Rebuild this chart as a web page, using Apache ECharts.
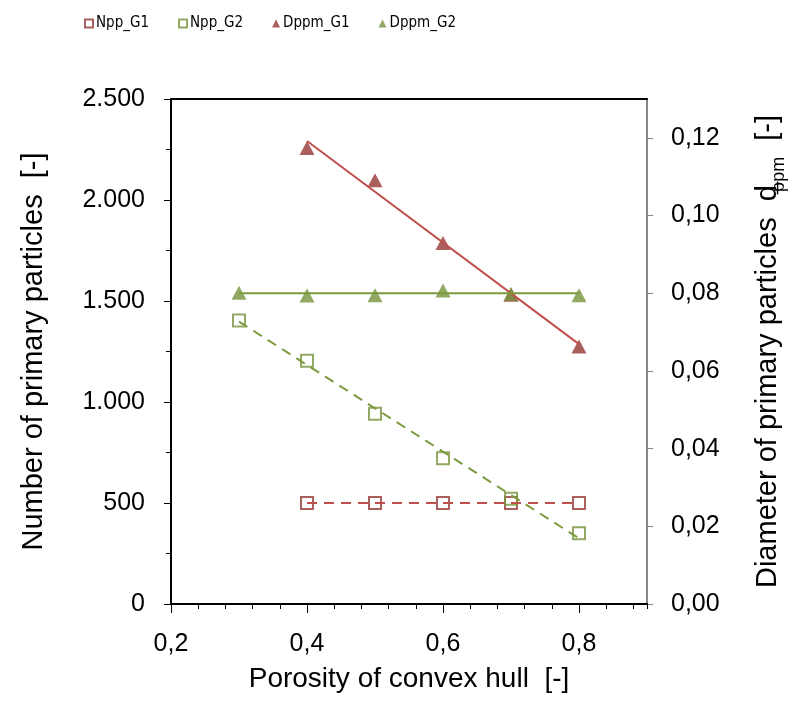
<!DOCTYPE html>
<html>
<head>
<meta charset="utf-8">
<script src="https://cdn.jsdelivr.net/npm/echarts@6/dist/echarts.min.js"></script>
<style>
  html, body { margin: 0; padding: 0; background: #fff; }
  #chart { width: 799px; height: 704px; }
</style>
</head>
<body>
<div id="chart"></div>
<script>
// porosity values (x)
var porosityG1 = [0.4, 0.5, 0.6, 0.7, 0.8];
var porosityG2 = [0.3, 0.4, 0.5, 0.6, 0.7, 0.8];

// number of primary particles (left axis)
var nppG1 = [500, 500, 500, 500, 500];
var nppG2 = [1404, 1204, 942, 721, 521, 350];

// diameter of primary particles (right axis)
var dppmG1 = [0.1174, 0.1091, 0.0929, 0.0796, 0.0663];
var dppmG2 = [0.0801, 0.0794, 0.0795, 0.0807, 0.0798, 0.0795];

// trend lines, start/end
var trendXG1 = [0.4, 0.8];
var trendXG2 = [0.3, 0.8];
var nppG1Trend = [500, 500];
var nppG2Trend = [1398, 325];
var dppmG1Trend = [0.1192, 0.0669];
var dppmG2Trend = [0.0800, 0.0800];

// tick values
var xLabelTicks = [0.2, 0.4, 0.6, 0.8];
var rightTicks = [0, 0.02, 0.04, 0.06, 0.08, 0.10, 0.12];

var red = '#953735', redLine = '#C0504D';
var green = '#77933C', greenLine = '#7A9A3E';
var font = 'Liberation Sans, Arial, sans-serif';
var narrow = 'DejaVu Sans Condensed, Liberation Sans Narrow, sans-serif';

function pairs(xs, ys) {
    return xs.map(function (x, i) { return [x, ys[i]]; });
}

var chart = echarts.init(document.getElementById('chart'));

var option = {
    animation: false,
    backgroundColor: '#fff',
    textStyle: { fontFamily: font, color: '#000' },
    legend: {
        left: 79,
        top: 11,
        itemWidth: 8,
        itemHeight: 8,
        itemGap: 29,
        textStyle: { fontFamily: narrow, fontSize: 15, color: '#000', padding: [0, 0, 0, -2] },
        data: ['Npp_G1', 'Npp_G2', 'Dppm_G1', 'Dppm_G2']
    },
    grid: { left: 171, right: 152, top: 99, bottom: 100 },
    xAxis: [
        {
            type: 'value', min: 0.2, max: 0.9, interval: 0.04,
            name: 'Porosity of convex hull  [-]',
            nameLocation: 'middle', nameGap: 61,
            nameTextStyle: { fontSize: 28, fontFamily: font, color: '#000' },
            axisLine: { lineStyle: { color: '#000', width: 2 } },
            axisTick: { show: true, length: 5, lineStyle: { color: '#000', width: 1 } },
            axisLabel: {
                customValues: xLabelTicks, margin: 28, fontSize: 25, color: '#000', fontFamily: font,
                formatter: function (v) { return v.toFixed(1).replace('.', ','); }
            },
            splitLine: { show: false }
        },
        {
            type: 'value', min: 0.2, max: 0.9, position: 'bottom',
            axisLine: { show: false },
            axisTick: { show: true, customValues: xLabelTicks, length: 9, lineStyle: { color: '#000', width: 1 } },
            axisLabel: { show: false },
            splitLine: { show: false }
        },
        {
            type: 'value', min: 0.2, max: 0.9, position: 'top',
            axisLine: { lineStyle: { color: '#000', width: 2 } },
            axisTick: { show: false },
            axisLabel: { show: false },
            splitLine: { show: false }
        }
    ],
    yAxis: [
        {
            type: 'value', min: 0, max: 2500, interval: 500, position: 'left',
            name: 'Number of primary particles  [-]',
            nameLocation: 'middle', nameGap: 123,
            nameTextStyle: { fontSize: 29, fontFamily: font, color: '#000' },
            axisLine: { show: true, lineStyle: { color: '#000', width: 2 } },
            axisTick: { show: true, length: 7, lineStyle: { color: '#000', width: 1 } },
            minorTick: { show: true, splitNumber: 2, length: 5, lineStyle: { color: '#000', width: 1 } },
            axisLabel: {
                margin: 26, fontSize: 25, color: '#000', fontFamily: font,
                formatter: function (v) { return String(v).replace(/\B(?=(\d{3})+(?!\d))/g, '.'); }
            },
            splitLine: { show: false }
        },
        {
            type: 'value', min: 0, max: 0.13, position: 'right',
            name: 'Diameter of primary particles  {d|d}{u|_}{sub|ppm}  [-]',
            nameLocation: 'middle', nameGap: 101,
            nameTextStyle: {
                fontSize: 29, fontFamily: font, color: '#000',
                rich: {
                    d: { fontSize: 29, fontFamily: font, color: '#000' },
                    u: { fontSize: 22, fontFamily: font, color: '#000', padding: [0, 0, 0, -9] },
                    sub: { fontSize: 18, fontFamily: font, color: '#000', padding: [22, 0, 0, -10] }
                }
            },
            axisLine: { show: true, lineStyle: { color: '#868686', width: 2 } },
            axisTick: { show: true, customValues: rightTicks, length: 6, lineStyle: { color: '#868686', width: 1 } },
            axisLabel: {
                customValues: rightTicks, margin: 24, fontSize: 25, color: '#000', fontFamily: font,
                formatter: function (v) { return v.toFixed(2).replace('.', ','); }
            },
            splitLine: { show: false }
        }
    ],
    series: [
        {
            name: 'Npp_G1 trend', type: 'line', xAxisIndex: 0, yAxisIndex: 0,
            data: pairs(trendXG1, nppG1Trend), symbol: 'none', silent: true,
            lineStyle: { color: redLine, width: 2, type: [10, 7] }
        },
        {
            name: 'Npp_G2 trend', type: 'line', xAxisIndex: 0, yAxisIndex: 0,
            data: pairs(trendXG2, nppG2Trend), symbol: 'none', silent: true,
            lineStyle: { color: greenLine, width: 2, type: [10, 7] }
        },
        {
            name: 'Dppm_G1 trend', type: 'line', xAxisIndex: 0, yAxisIndex: 1,
            data: pairs(trendXG1, dppmG1Trend), symbol: 'none', silent: true,
            lineStyle: { color: redLine, width: 2 }
        },
        {
            name: 'Dppm_G2 trend', type: 'line', xAxisIndex: 0, yAxisIndex: 1,
            data: pairs(trendXG2, dppmG2Trend), symbol: 'none', silent: true,
            lineStyle: { color: greenLine, width: 2 }
        },
        {
            name: 'Npp_G1', type: 'scatter', xAxisIndex: 0, yAxisIndex: 0,
            data: pairs(porosityG1, nppG1), symbol: 'rect', symbolSize: 12,
            itemStyle: { color: 'rgba(255,255,255,0)', borderColor: red, borderWidth: 2 }
        },
        {
            name: 'Npp_G2', type: 'scatter', xAxisIndex: 0, yAxisIndex: 0,
            data: pairs(porosityG2, nppG2), symbol: 'rect', symbolSize: 12,
            itemStyle: { color: 'rgba(255,255,255,0)', borderColor: green, borderWidth: 2 }
        },
        {
            name: 'Dppm_G1', type: 'scatter', xAxisIndex: 0, yAxisIndex: 1,
            data: pairs(porosityG1, dppmG1), symbol: 'triangle', symbolSize: [15, 14],
            itemStyle: { color: red }
        },
        {
            name: 'Dppm_G2', type: 'scatter', xAxisIndex: 0, yAxisIndex: 1,
            data: pairs(porosityG2, dppmG2), symbol: 'triangle', symbolSize: [15, 14],
            itemStyle: { color: green }
        }
    ]
};

chart.setOption(option);
</script>
</body>
</html>
